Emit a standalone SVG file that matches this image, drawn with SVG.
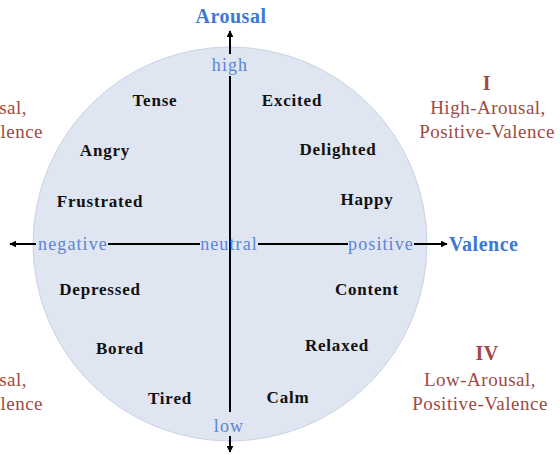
<svg xmlns="http://www.w3.org/2000/svg" width="560" height="455" viewBox="0 0 560 455">
<style>
.emo{font-family:"Liberation Serif",serif;font-weight:bold;font-size:17px;fill:#111;text-anchor:middle;letter-spacing:0.8px}
.ax{font-family:"Liberation Serif",serif;font-size:18px;fill:#5b86d6;text-anchor:middle;letter-spacing:1.1px}
.axt{font-family:"Liberation Serif",serif;font-weight:bold;font-size:20px;fill:#3c78d8;letter-spacing:0.5px}
.q{font-family:"Liberation Serif",serif;font-size:19px;fill:#9e4a43;text-anchor:middle;letter-spacing:0.5px}
.qe{text-anchor:end}
.qb{font-weight:bold;font-size:20px}
</style>
<defs>
<marker id="ah" viewBox="0 0 10 10" refX="9" refY="5" markerWidth="7" markerHeight="7" orient="auto" markerUnits="userSpaceOnUse">
<path d="M0,0 L10,5 L0,10 Z" fill="#000"/>
</marker>
</defs>
<g id="circle"><circle cx="230" cy="244" r="197" fill="#dfe5f1" stroke="#c9d3e6" stroke-width="1"/></g>
<g id="connectors" stroke="#000" stroke-width="2" fill="none">
<line x1="230" y1="54" x2="230" y2="31" marker-end="url(#ah)"/>
<line x1="230" y1="76" x2="230" y2="412"/>
<line x1="230" y1="436" x2="230" y2="452" marker-end="url(#ah)"/>
<line x1="36" y1="244" x2="10" y2="244" marker-end="url(#ah)"/>
<line x1="108" y1="244" x2="200" y2="244"/>
<line x1="258" y1="244" x2="348" y2="244"/>
<line x1="414" y1="244" x2="447" y2="244" marker-end="url(#ah)"/>
</g>
<g id="axis-labels">
<text class="axt" x="231" y="23" text-anchor="middle">Arousal</text>
<text class="axt" x="449" y="251">Valence</text>
<text class="ax" x="230" y="71">high</text>
<text class="ax" x="229" y="432">low</text>
<text class="ax" x="229" y="250">neutral</text>
<text class="ax" x="73" y="250">negative</text>
<text class="ax" x="381" y="250">positive</text>
</g>
<g id="quadrant-I"><text class="q qb" x="487" y="90">I</text><text class="q" x="488" y="114">High-Arousal,</text><text class="q" x="487" y="138">Positive-Valence</text></g>
<g id="quadrant-II"><text class="q qe" x="27" y="114">sal,</text><text class="q qe" x="43" y="138">lence</text></g>
<g id="quadrant-III"><text class="q qe" x="27" y="386">sal,</text><text class="q qe" x="43" y="410">lence</text></g>
<g id="quadrant-IV"><text class="q qb" x="487" y="360">IV</text><text class="q" x="480" y="386">Low-Arousal,</text><text class="q" x="480" y="410">Positive-Valence</text></g>
<g id="tense"><text class="emo" x="155" y="106">Tense</text></g>
<g id="excited"><text class="emo" x="292" y="106">Excited</text></g>
<g id="angry"><text class="emo" x="105" y="156">Angry</text></g>
<g id="delighted"><text class="emo" x="338" y="155">Delighted</text></g>
<g id="frustrated"><text class="emo" x="100" y="207">Frustrated</text></g>
<g id="happy"><text class="emo" x="367" y="205">Happy</text></g>
<g id="depressed"><text class="emo" x="100" y="295">Depressed</text></g>
<g id="content"><text class="emo" x="367" y="295">Content</text></g>
<g id="bored"><text class="emo" x="120" y="354">Bored</text></g>
<g id="relaxed"><text class="emo" x="337" y="351">Relaxed</text></g>
<g id="tired"><text class="emo" x="170" y="404">Tired</text></g>
<g id="calm"><text class="emo" x="288" y="403">Calm</text></g>
</svg>
